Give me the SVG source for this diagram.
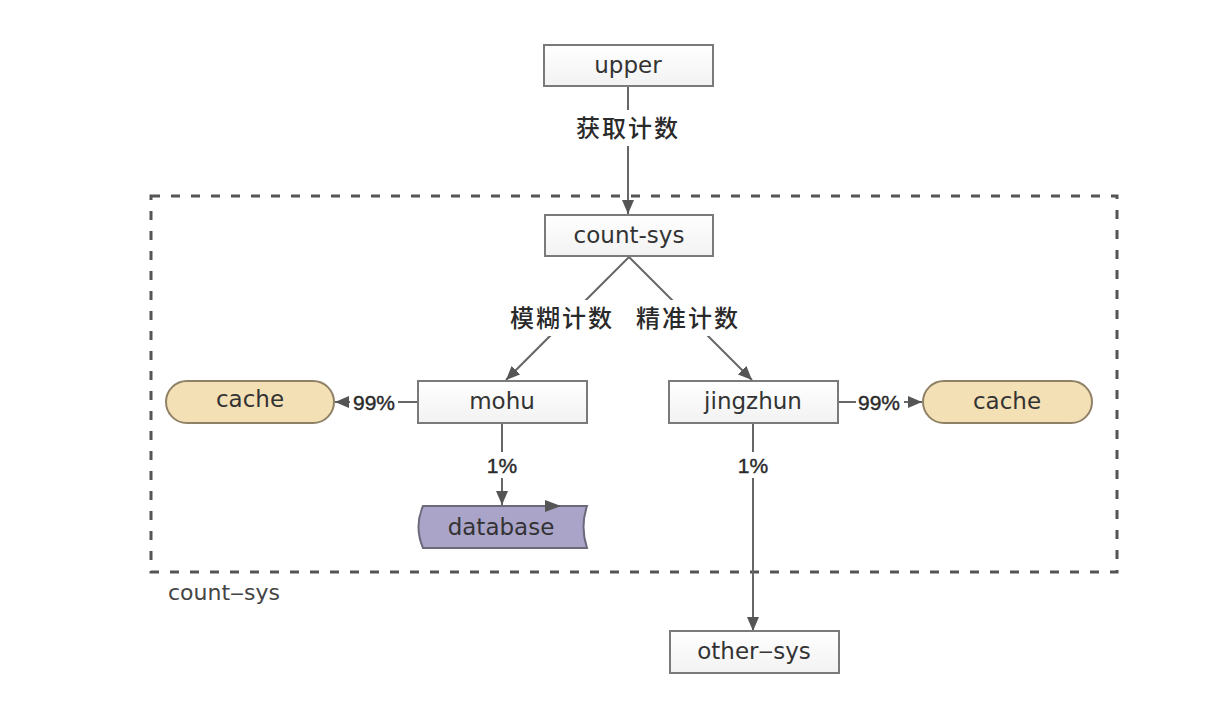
<svg xmlns="http://www.w3.org/2000/svg" width="1218" height="714" viewBox="0 0 1218 714">
<defs>
<marker id="arr" viewBox="0 0 14 12" refX="14" refY="6" markerWidth="14" markerHeight="12" markerUnits="userSpaceOnUse" orient="auto">
<path d="M0,0 L14,6 L0,12 Z" fill="#555"/>
</marker>
<linearGradient id="boxg" x1="0" y1="0" x2="0" y2="1">
<stop offset="0" stop-color="#ffffff"/>
<stop offset="1" stop-color="#f2f2f2"/>
</linearGradient>
</defs>
<style>
.box{fill:url(#boxg);stroke:#7a7a7a;stroke-width:2}
.cache{fill:#f4e0b5;stroke:#8f8166;stroke-width:2}
.db{fill:#aaa4c8;stroke:#6a6a7a;stroke-width:2}
.t{font-family:"DejaVu Sans",sans-serif;font-size:23px;fill:#333;text-anchor:middle}
.cn{font-family:"Noto Sans CJK SC",sans-serif;font-size:24px;font-weight:500;fill:#2a2a2a;text-anchor:middle;letter-spacing:2px}
.pct{font-family:"Liberation Sans",sans-serif;font-size:21px;fill:#2a2a2a;text-anchor:middle;stroke:#2a2a2a;stroke-width:0.4}
.ln{stroke:#666;stroke-width:2;fill:none}
.bg{fill:#fff}
</style>
<rect width="1218" height="714" fill="#fff"/>
<g id="frame">
<rect x="151" y="196" width="966" height="376" fill="none" stroke="#555" stroke-width="3" stroke-dasharray="9 11"/>
<text x="168" y="600" style="font-family:'DejaVu Sans',sans-serif;font-size:22px;fill:#444">count‒sys</text>
</g>
<g id="connectors">
<line class="ln" x1="628" y1="86" x2="628" y2="214" marker-end="url(#arr)"/>
<rect class="bg" x="568" y="110" width="120" height="36"/>
<text class="cn" x="628" y="137">获取计数</text>
<line class="ln" x1="629" y1="257" x2="506" y2="380" marker-end="url(#arr)"/>
<line class="ln" x1="629" y1="257" x2="752" y2="380" marker-end="url(#arr)"/>
<rect class="bg" x="505" y="300" width="240" height="36"/>
<text class="cn" x="562" y="327">模糊计数</text>
<text class="cn" x="688" y="327">精准计数</text>
<line class="ln" x1="418" y1="402" x2="335" y2="402" marker-end="url(#arr)"/>
<rect class="bg" x="350" y="390" width="48" height="24"/>
<text class="pct" x="374" y="410">99%</text>
<line class="ln" x1="838" y1="402" x2="922" y2="402" marker-end="url(#arr)"/>
<rect class="bg" x="856" y="390" width="48" height="24"/>
<text class="pct" x="879" y="410">99%</text>
<line class="ln" x1="502" y1="423" x2="502" y2="505" marker-end="url(#arr)"/>
<rect class="bg" x="486" y="452" width="32" height="26"/>
<text class="pct" x="502" y="473">1%</text>
<line class="ln" x1="753" y1="423" x2="753" y2="631" marker-end="url(#arr)"/>
<rect class="bg" x="737" y="452" width="32" height="26"/>
<text class="pct" x="753" y="473">1%</text>
</g>
<g id="upper">
<rect class="box" x="544" y="45" width="169" height="41"/>
<text class="t" x="628" y="73">upper</text>
</g>
<g id="count-sys">
<rect class="box" x="545" y="215" width="168" height="41"/>
<text class="t" x="629" y="243">count-sys</text>
</g>
<g id="mohu">
<rect class="box" x="418" y="381" width="169" height="42"/>
<text class="t" x="502" y="409">mohu</text>
</g>
<g id="jingzhun">
<rect class="box" x="669" y="381" width="169" height="42"/>
<text class="t" x="753" y="409">jingzhun</text>
</g>
<g id="cache-left">
<rect class="cache" x="166" y="381" width="168" height="42" rx="21" ry="21"/>
<text class="t" x="250" y="407">cache</text>
</g>
<g id="cache-right">
<rect class="cache" x="923" y="381" width="169" height="42" rx="21" ry="21"/>
<text class="t" x="1007" y="409">cache</text>
</g>
<g id="database">
<path class="db" d="M423,506 L587,506 Q580,527 587,548 L423,548 Q414,527 423,506 Z"/>
<path d="M545,500 L561,506 L545,512 Z" fill="#555"/>
<text class="t" x="501" y="535">database</text>
</g>
<g id="other-sys">
<rect class="box" x="670" y="631" width="169" height="42"/>
<text class="t" x="754" y="659">other‒sys</text>
</g>
</svg>
